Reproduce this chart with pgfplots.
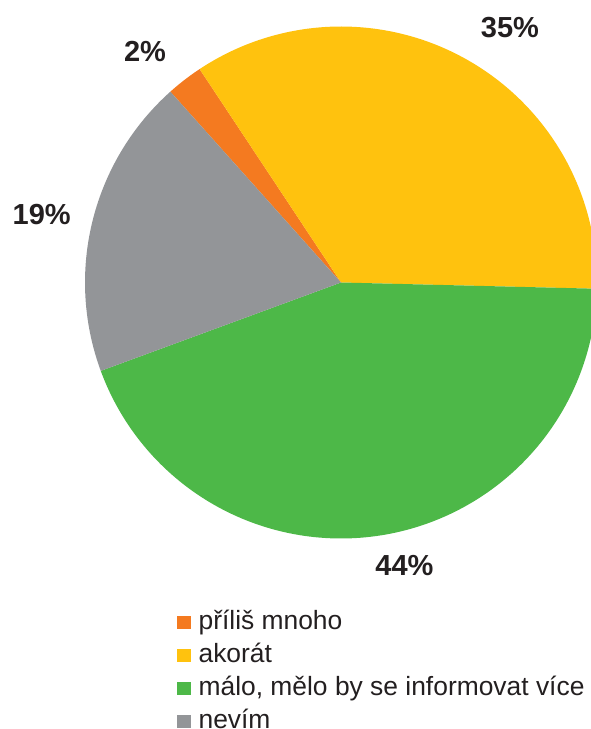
\documentclass[border=0pt]{standalone}
\usepackage{pgfplots}
\pgfplotsset{compat=1.18}
\usepackage{fontspec}
\setmainfont{Liberation Sans}
\definecolor{cOrange}{HTML}{F47A20}
\definecolor{cYellow}{HTML}{FFC20E}
\definecolor{cGreen}{HTML}{4DB848}
\definecolor{cGray}{HTML}{939598}
\definecolor{cText}{HTML}{231F20}
\begin{document}
\begin{tikzpicture}
% data: share of each slice in percent
\def\vA{2.3}\def\vB{34.7}\def\vC{44.0}\def\vD{19.0}
\def\cx{341}\def\cy{446.5}\def\rr{256}
\pgfmathsetmacro\aA{131.8}
\pgfmathsetmacro\aB{\aA-3.6*\vA}
\pgfmathsetmacro\aC{\aB-3.6*\vB}
\pgfmathsetmacro\aD{\aC-3.6*\vC}
\pgfmathsetmacro\aE{\aD-3.6*\vD}
\begin{axis}[
  scale only axis, width=591pt, height=729pt,
  xmin=0, xmax=591, ymin=0, ymax=729,
  hide axis, clip=true,
  legend cell align=left,
  legend image code/.code={\fill[#1] (0pt,0pt) rectangle (13.3pt,13.3pt);},
  legend style={at={(axis cs:177.3,118)}, anchor=north west, draw=none, fill=none,
    inner sep=0pt, outer sep=0pt, row sep=9pt, column sep=8pt,
    font=\fontsize{26.4}{26.4}\selectfont\color{cText},
    nodes={inner sep=0pt, text height=18pt, text depth=6pt, anchor=base west}},
]
\addplot[fill=cOrange, draw=none, domain=\aB:\aA, samples=30, variable=\t]
  ({\cx+\rr*cos(\t)}, {\cy+\rr*sin(\t)}) -- (axis cs:\cx,\cy) -- cycle;
\addlegendentry{příliš mnoho}
\addplot[fill=cYellow, draw=none, domain=\aC:\aB, samples=120, variable=\t]
  ({\cx+\rr*cos(\t)}, {\cy+\rr*sin(\t)}) -- (axis cs:\cx,\cy) -- cycle;
\addlegendentry{akorát}
\addplot[fill=cGreen, draw=none, domain=\aD:\aC, samples=140, variable=\t]
  ({\cx+\rr*cos(\t)}, {\cy+\rr*sin(\t)}) -- (axis cs:\cx,\cy) -- cycle;
\addlegendentry{málo, mělo by se informovat více}
\addplot[fill=cGray, draw=none, domain=\aE:\aD, samples=70, variable=\t]
  ({\cx+\rr*cos(\t)}, {\cy+\rr*sin(\t)}) -- (axis cs:\cx,\cy) -- cycle;
\addlegendentry{nevím}
\begin{scope}[every node/.style={inner sep=0pt, font=\fontsize{29}{29}\selectfont\bfseries, text=cText}]
\node at (axis cs:145,677.5) {2\%};
\node at (axis cs:510,701.5) {35\%};
\node at (axis cs:41.7,514.7) {19\%};
\node at (axis cs:404.5,163) {44\%};
\end{scope}
\end{axis}
\pgfresetboundingbox
\path[use as bounding box] (0,0) rectangle (591pt,729pt);
\end{tikzpicture}
\end{document}
